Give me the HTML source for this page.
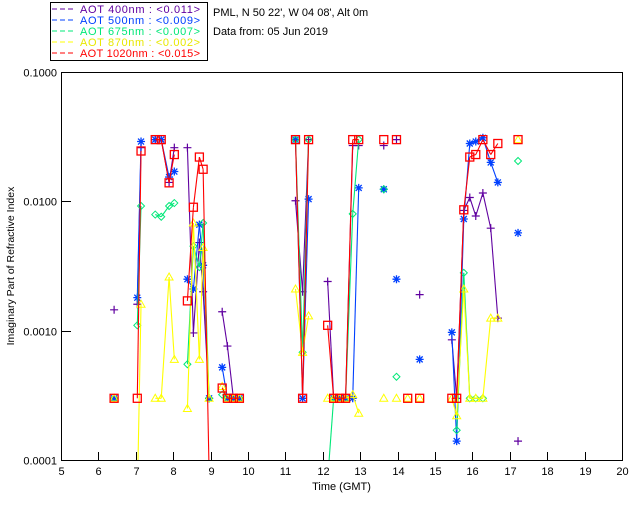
<!DOCTYPE html>
<html><head><meta charset="utf-8"><style>
body{margin:0;background:#fff;}
svg text{font-family:"Liberation Sans",sans-serif;}
</style></head><body>
<svg id="chart" width="640" height="512" viewBox="0 0 640 512" xmlns="http://www.w3.org/2000/svg">
<rect width="640" height="512" fill="#fff"/>
<g>
<rect x="50.5" y="2.5" width="157" height="58" fill="#fff" stroke="#000"/>
<g font-size="11">
<line x1="52" y1="9" x2="74" y2="9" stroke="#6000a0" stroke-dasharray="5,3"/><text x="80" y="13" fill="#6000a0" textLength="120" lengthAdjust="spacing">AOT  400nm : &lt;0.011&gt;</text>
<line x1="52" y1="20" x2="74" y2="20" stroke="#0040ff" stroke-dasharray="5,3"/><text x="80" y="24" fill="#0040ff" textLength="120" lengthAdjust="spacing">AOT  500nm : &lt;0.009&gt;</text>
<line x1="52" y1="31" x2="74" y2="31" stroke="#00e878" stroke-dasharray="5,3"/><text x="80" y="35" fill="#00e878" textLength="120" lengthAdjust="spacing">AOT  675nm : &lt;0.007&gt;</text>
<line x1="52" y1="42" x2="74" y2="42" stroke="#ffff00" stroke-dasharray="5,3"/><text x="80" y="46" fill="#e8e800" textLength="120" lengthAdjust="spacing">AOT  870nm : &lt;0.002&gt;</text>
<line x1="52" y1="53" x2="74" y2="53" stroke="#ff0000" stroke-dasharray="5,3"/><text x="80" y="57" fill="#ff0000" textLength="120" lengthAdjust="spacing">AOT 1020nm : &lt;0.015&gt;</text>
</g></g>
<text x="213" y="16" font-size="11">PML, N 50 22', W 04 08', Alt 0m</text>
<text x="213" y="35" font-size="11">Data from: 05 Jun 2019</text>
<g id="axes"></g>
<g id="plot"></g>
</svg>
<script>
const times=[6.42,7.04,7.14,7.52,7.68,7.89,8.03,8.38,8.54,8.70,8.80,8.96,9.31,9.45,9.61,9.77,
11.27,11.46,11.62,12.13,12.29,12.45,12.61,12.80,12.96,13.63,13.97,14.27,14.59,
15.45,15.58,15.77,15.93,16.09,16.28,16.49,16.68,17.22];
const aot400=[0.00145,0.0016,0.026,0.03,0.03,0.014,0.026,0.026,0.00096,0.0048,0.002,0.0003,0.0014,0.00076,0.0003,0.0003,
0.0101,0.002,0.03,0.0024,0.0003,0.0003,0.0003,0.027,0.027,0.027,0.03,null,0.0019,
0.00085,0.0003,0.0085,0.0107,0.0077,0.0116,0.0062,0.00125,0.00014];
const aot500=[0.0003,0.0018,0.029,0.03,0.03,0.0154,0.017,0.0025,0.0021,0.0066,0.0032,0.0003,0.00052,0.0003,0.0003,0.0003,
0.03,0.0003,0.0104,null,0.0003,0.0003,0.0003,0.0003,0.0127,0.0124,0.0025,null,0.0006,
0.00097,0.00014,0.0073,0.028,0.029,0.031,0.020,0.014,0.0057];
const aot675=[0.0003,0.0011,0.0092,0.0079,0.0076,0.0092,0.0097,0.00055,0.0045,0.0031,0.0068,0.0003,0.00032,0.0003,0.0003,0.0003,
0.03,0.00068,0.03,0.00007,0.0003,0.0003,0.0003,0.008,0.03,0.0124,0.00044,null,null,
null,0.00017,0.0028,0.0003,0.0003,0.0003,null,null,0.0205];
const aot870=[0.0003,0.00005,0.0016,0.0003,0.0003,0.0026,0.0006,0.00025,0.0068,0.0006,0.0044,0.0003,0.00037,0.0003,0.0003,0.0003,
0.0021,0.00068,0.0013,0.0003,0.0003,0.0003,0.0003,0.00032,0.00023,0.0003,0.0003,0.0003,0.0003,
0.0003,0.00022,0.0021,0.0003,0.0003,0.0003,0.00125,0.00125,0.03];
const aot1020=[0.0003,0.0003,0.0245,0.03,0.03,0.0139,0.023,0.0017,0.009,0.022,0.0177,0.00008,0.00036,0.0003,0.0003,0.0003,
0.03,0.0003,0.03,0.0011,0.0003,0.0003,0.0003,0.03,0.03,0.03,0.03,0.0003,0.0003,
0.0003,0.0003,0.0086,0.022,0.023,0.03,0.023,0.028,0.03];
const xTicks=[5,6,7,8,9,10,11,12,13,14,15,16,17,18,19,20];
const yTicks=[0.0001,0.001,0.01,0.1];
const yTickLabels=["0.0001","0.0010","0.0100","0.1000"];

const NS="http://www.w3.org/2000/svg";
const X0=61,X1=622,Y0=460,Y1=72;
function xs(t){return X0+(t-5)/15*(X1-X0);}
function ys(v){return Y0-(Math.log10(v)+4)/3*(Y0-Y1);}
function mk(tag,attrs,parent){const e=document.createElementNS(NS,tag);for(const k in attrs)e.setAttribute(k,attrs[k]);parent.appendChild(e);return e;}
const axes=document.getElementById('axes');
const plot=document.getElementById('plot');
const defs=mk('defs',{},plot);
const cp=mk('clipPath',{id:'clip'},defs);
mk('rect',{x:X0,y:Y1,width:X1-X0,height:Y0-Y1},cp);
const frame=mk('rect',{x:X0+0.5,y:Y1+0.5,width:X1-X0,height:Y0-Y1,fill:'none',stroke:'#000'},axes);


xTicks.forEach(t=>{
  const x=Math.round(xs(t))+0.5;
  const l=mk('line',{x1:x,y1:Y0,x2:x,y2:Y0-8,stroke:'#000'},axes);
  
  
  const tx=mk('text',{x:x,y:Y0+15,'font-size':'11','text-anchor':'middle'},axes);
  tx.textContent=t;
  
  
});
yTicks.forEach((v,i)=>{
  const y=Math.round(ys(v))+0.5;
  const l=mk('line',{x1:X0,y1:y,x2:X0+10,y2:y,stroke:'#000'},axes);
  
  
  const tx=mk('text',{x:X0-4,y:y+4,'font-size':'11','text-anchor':'end'},axes);
  tx.textContent=yTickLabels[i];
  
  
});
const xt=mk('text',{x:(X0+X1)/2,y:Y0+30,'font-size':'11','text-anchor':'middle'},axes);
xt.textContent='Time (GMT)';


const yt=mk('text',{x:0,y:0,'font-size':'10.5','text-anchor':'middle',transform:'translate(14,'+(Y0+Y1)/2+') rotate(-90)'},axes);
yt.textContent='Imaginary Part of Refractive Index';



const series=[
 {name:'aot-400',vals:aot400,color:'#6000a0',m:'plus'},
 {name:'aot-500',vals:aot500,color:'#0040ff',m:'star'},
 {name:'aot-675',vals:aot675,color:'#00e878',m:'diamond'},
 {name:'aot-870',vals:aot870,color:'#ffff00',m:'tri'},
 {name:'aot-1020',vals:aot1020,color:'#ff0000',m:'square'}];
const g=mk('g',{'clip-path':'url(#clip)'},plot);
series.forEach(s=>{
  const sg=mk('g',{},g);
  
  
  for(let i=0;i<times.length-1;i++){
    const a=s.vals[i],b=s.vals[i+1];
    if(a==null||b==null||times[i+1]-times[i]>0.25)continue;
    const l=mk('line',{x1:xs(times[i]),y1:ys(a),x2:xs(times[i+1]),y2:ys(b),stroke:s.color,'stroke-width':1.1},sg);
    
    
  }
  times.forEach((t,i)=>{
    const v=s.vals[i]; if(v==null)return;
    const x=xs(t),y=ys(v);let e;
    if(s.m==='plus') e=mk('path',{d:`M${x-4} ${y}h8M${x} ${y-4}v8`,stroke:s.color,fill:'none','stroke-width':1.2},sg);
    else if(s.m==='star') e=mk('path',{d:`M${x-4} ${y}h8M${x} ${y-4}v8M${x-3} ${y-3}l6 6M${x-3} ${y+3}l6 -6`,stroke:s.color,fill:'none','stroke-width':1.3},sg);
    else if(s.m==='diamond') e=mk('path',{d:`M${x} ${y-3.5}l3.5 3.5l-3.5 3.5l-3.5 -3.5z`,stroke:s.color,fill:'none'},sg);
    else if(s.m==='tri') e=mk('path',{d:`M${x} ${y-4}l4 7h-8z`,stroke:s.color,fill:'none'},sg);
    else e=mk('rect',{x:x-4,y:y-4,width:8,height:8,stroke:s.color,fill:'none','stroke-width':1.3},sg);
    
    
  });
});
</script>
</body></html>
